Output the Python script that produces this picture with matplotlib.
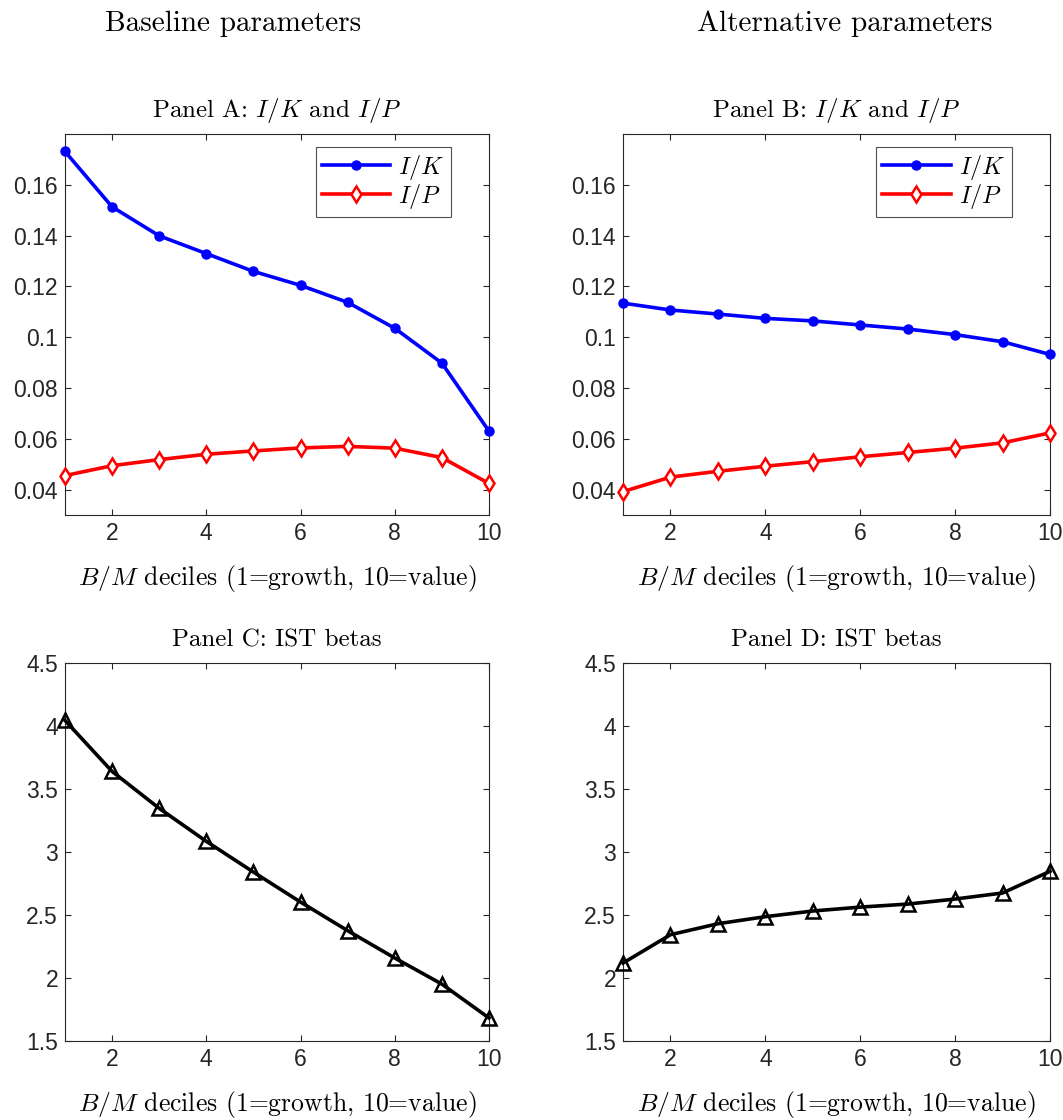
import matplotlib
matplotlib.use("Agg")
import matplotlib.pyplot as plt
import numpy as np

plt.rcParams['font.family'] = 'Liberation Sans'
plt.rcParams['mathtext.fontset'] = 'cm'

deciles = np.arange(1, 11)

# baseline parameters
ik_base = [0.1731, 0.1513, 0.1399, 0.1329, 0.1259, 0.1204, 0.1137, 0.1035, 0.0898, 0.0630]
ip_base = [0.0455, 0.0494, 0.0518, 0.0539, 0.0552, 0.0564, 0.0570, 0.0563, 0.0526, 0.0424]
beta_base = [4.045, 3.640, 3.347, 3.085, 2.841, 2.603, 2.376, 2.159, 1.952, 1.683]

# alternative parameters
ik_alt = [0.1134, 0.1107, 0.1091, 0.1074, 0.1064, 0.1048, 0.1032, 0.1010, 0.0982, 0.0932]
ip_alt = [0.0392, 0.0449, 0.0472, 0.0492, 0.0510, 0.0529, 0.0546, 0.0563, 0.0584, 0.0623]
beta_alt = [2.119, 2.344, 2.431, 2.487, 2.532, 2.563, 2.587, 2.627, 2.675, 2.847]

serif = 'cmr10'
axcol = '#262626'
xlab = '$B/M$ deciles (1=growth, 10=value)'

fig = plt.figure(figsize=(10.63, 11.2), dpi=100)

def style(ax, ylim, yticks, yfmt):
    ax.set_xlim(1, 10)
    ax.set_ylim(*ylim)
    ax.set_xticks([2, 4, 6, 8, 10])
    ax.set_yticks(yticks)
    ax.set_yticklabels([yfmt(v) for v in yticks])
    ax.tick_params(direction='in', top=True, right=True, labelsize=16.5,
                   colors=axcol, length=4, width=0.8, pad=5)
    for s in ax.spines.values():
        s.set_color(axcol)
        s.set_linewidth(0.8)
    ax.set_xlabel(xlab, fontsize=18.5, family=serif, color='black', labelpad=13)

def fmt_small(v):
    return f'{v:.2f}'.rstrip('0')

def fmt_beta(v):
    return f'{v:g}'

positions = {
    'A': [0.0611, 0.5402, 0.3989, 0.3402],
    'B': [0.5861, 0.5402, 0.4017, 0.3402],
    'C': [0.0611, 0.0705, 0.3989, 0.3375],
    'D': [0.5861, 0.0705, 0.4017, 0.3375],
}

for key, ik, ip in (('A', ik_base, ip_base), ('B', ik_alt, ip_alt)):
    ax = fig.add_axes(positions[key])
    ax.plot(deciles, ik, color='#0000ff', lw=2.6, marker='o', ms=6.5,
            label='$I/K$', clip_on=False, zorder=3)
    ax.plot(deciles, ip, color='#ff0000', lw=2.6, marker='d', ms=8.5,
            mfc='white', mew=1.8, label='$I/P$', clip_on=False, zorder=3)
    style(ax, (0.03, 0.18), [0.04, 0.06, 0.08, 0.1, 0.12, 0.14, 0.16], fmt_small)
    ax.set_title(f'Panel {key}: $I/K$ and $I/P$', fontsize=18, family=serif, pad=12)
    leg = ax.legend(loc='upper right', fontsize=17.5, frameon=True, fancybox=False,
                    edgecolor=axcol, handlelength=2.8, handletextpad=0.35,
                    borderpad=0.25, labelspacing=0.0, borderaxespad=0,
                    bbox_to_anchor=(0.91, 0.966))
    leg.get_frame().set_linewidth(0.8)

for key, beta in (('C', beta_base), ('D', beta_alt)):
    ax = fig.add_axes(positions[key])
    ax.plot(deciles, beta, color='black', lw=2.6, marker='^', ms=9.5,
            mfc='none', mew=1.8, clip_on=False, zorder=3)
    style(ax, (1.5, 4.5), [1.5, 2, 2.5, 3, 3.5, 4, 4.5], fmt_beta)
    ax.set_title(f'Panel {key}: IST betas', fontsize=18, family=serif, pad=12)

fig.text(0.219, 0.979, 'Baseline parameters', ha='center', va='center',
         fontsize=21, family=serif)
fig.text(0.795, 0.979, 'Alternative parameters', ha='center', va='center',
         fontsize=21, family=serif)

fig.savefig('out.png', dpi=100)
